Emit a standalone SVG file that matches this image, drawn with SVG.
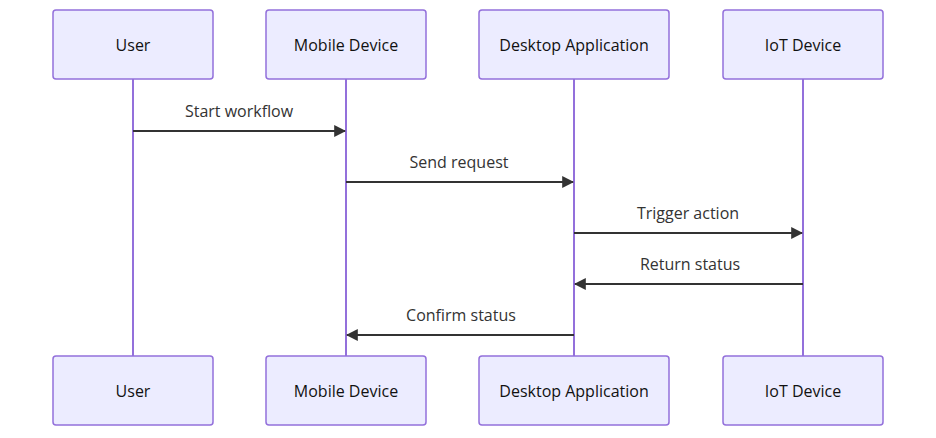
<svg xmlns="http://www.w3.org/2000/svg" width="936" height="438" viewBox="0 0 936 438">
<defs>
<marker id="arrowhead" viewBox="0 0 10 10" refX="9" refY="5" markerUnits="userSpaceOnUse" markerWidth="12" markerHeight="12" orient="auto-start-reverse">
<path d="M 0 0 L 10 5 L 0 10 z" fill="#333333"/>
</marker>
</defs>
<style>
.actor{fill:#ECECFF;stroke:#9370DB;stroke-width:1.5}
.atext{font-family:"Open Sans","Liberation Sans",Arial,sans-serif;font-size:16px;fill:#111;text-anchor:middle;dominant-baseline:central}
.life{stroke:#9370DB;stroke-width:2}
.msg{stroke:#333333;stroke-width:2;fill:none}
.mtext{font-family:"Open Sans","Liberation Sans",Arial,sans-serif;font-size:16px;fill:#333;text-anchor:middle}
</style>
<rect width="936" height="438" fill="#ffffff"/>
<g id="lifelines">
<line class="life" x1="133" y1="79" x2="133" y2="356"/>
<line class="life" x1="346" y1="79" x2="346" y2="356"/>
<line class="life" x1="574" y1="79" x2="574" y2="356"/>
<line class="life" x1="803" y1="79" x2="803" y2="356"/>
</g>
<g id="user-top"><rect class="actor" x="53" y="10" width="160" height="69" rx="3"/><text class="atext" x="133" y="45">User</text></g>
<g id="mobile-top"><rect class="actor" x="266" y="10" width="160" height="69" rx="3"/><text class="atext" x="346" y="45">Mobile Device</text></g>
<g id="desktop-top"><rect class="actor" x="479" y="10" width="190" height="69" rx="3"/><text class="atext" x="574" y="45">Desktop Application</text></g>
<g id="iot-top"><rect class="actor" x="723" y="10" width="160" height="69" rx="3"/><text class="atext" x="803" y="45">IoT Device</text></g>
<g id="user-bottom"><rect class="actor" x="53" y="356" width="160" height="69" rx="3"/><text class="atext" x="133" y="391">User</text></g>
<g id="mobile-bottom"><rect class="actor" x="266" y="356" width="160" height="69" rx="3"/><text class="atext" x="346" y="391">Mobile Device</text></g>
<g id="desktop-bottom"><rect class="actor" x="479" y="356" width="190" height="69" rx="3"/><text class="atext" x="574" y="391">Desktop Application</text></g>
<g id="iot-bottom"><rect class="actor" x="723" y="356" width="160" height="69" rx="3"/><text class="atext" x="803" y="391">IoT Device</text></g>
<g id="connectors">
<line class="msg" x1="133" y1="131" x2="345" y2="131" marker-end="url(#arrowhead)"/>
<text class="mtext" x="239" y="117">Start workflow</text>
<line class="msg" x1="346" y1="182" x2="573" y2="182" marker-end="url(#arrowhead)"/>
<text class="mtext" x="459" y="168">Send request</text>
<line class="msg" x1="574" y1="233" x2="802" y2="233" marker-end="url(#arrowhead)"/>
<text class="mtext" x="688" y="219">Trigger action</text>
<line class="msg" x1="803" y1="284" x2="575" y2="284" marker-end="url(#arrowhead)"/>
<text class="mtext" x="690" y="270">Return status</text>
<line class="msg" x1="574" y1="335" x2="347" y2="335" marker-end="url(#arrowhead)"/>
<text class="mtext" x="461" y="321">Confirm status</text>
</g>
</svg>
